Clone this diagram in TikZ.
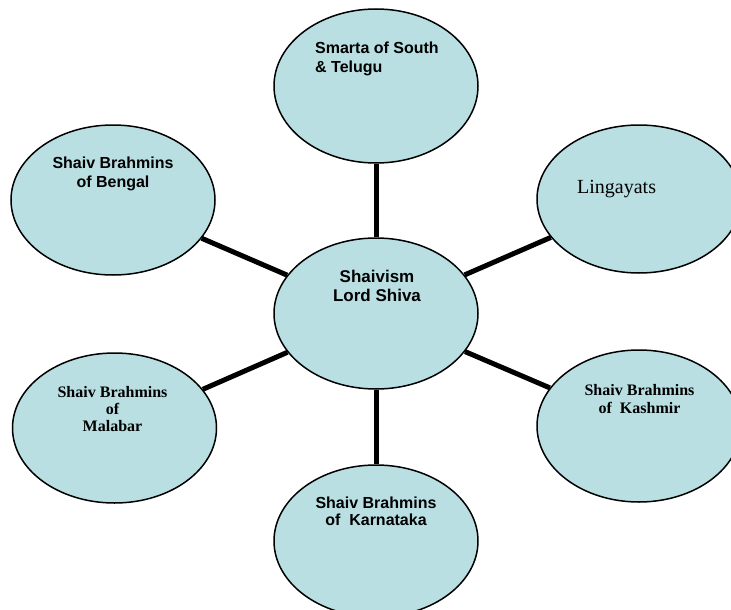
\documentclass[tikz,border=0pt]{standalone}
\usepackage{fontspec}
\setmainfont{Liberation Serif}
\newfontfamily\arialf{Liberation Sans}
\usetikzlibrary{shapes.geometric}
\definecolor{bubble}{HTML}{B9DFE3}
\tikzset{
  bubble/.style={ellipse, draw=black, line width=1.5pt, fill=bubble, inner sep=0pt,
    minimum width=204pt, minimum height=#1},
  bubble/.default=152pt,
  conn/.style={line width=5pt, black},
  lbl/.style={inner sep=0pt, anchor=base},
  lblw/.style={inner sep=0pt, anchor=base west},
}
\newcommand{\sansb}[2]{\arialf\bfseries\fontsize{#1}{#2}\selectfont}
\newcommand{\serifb}[2]{\bfseries\fontsize{#1}{#2}\selectfont}
\begin{document}
\begin{tikzpicture}[x=1pt,y=-1pt]
\useasboundingbox (0,0) rectangle (731,610);
\node[bubble=154pt] (top) at (376,86) {};
\node[bubble=150pt] (bengal) at (113,200) {};
\node[bubble=148pt] (ling) at (639,199) {};
\node[bubble=151pt] (center) at (376,313.5) {};
\node[bubble=150pt] (malabar) at (114.5,428) {};
\node[bubble=152pt] (kashmir) at (639,426) {};
\node[bubble=152pt] (karnataka) at (376,541) {};
\draw[conn] (center) -- (top);
\draw[conn] (center) -- (bengal);
\draw[conn] (center) -- (ling);
\draw[conn] (center) -- (malabar);
\draw[conn] (center) -- (kashmir);
\draw[conn] (center) -- (karnataka);
\node[lblw] (ttop) at (315,54) {\sansb{16}{19}\begin{tabular}[t]{@{}l@{}}Smarta of South\\ \& Telugu\end{tabular}};
\node[lbl] (tbengal) at (113,168) {\sansb{16}{19}\begin{tabular}[t]{@{}c@{}}Shaiv Brahmins\\ of Bengal\end{tabular}};
\node[lblw] (tling) at (577,193) {\fontsize{20}{23}\selectfont Lingayats};
\node[lbl] (tcenter) at (377,282) {\sansb{17}{19}\begin{tabular}[t]{@{}c@{}}Shaivism\\ Lord Shiva\end{tabular}};
\node[lbl] (tmalabar) at (112.5,397) {\serifb{16}{17}\begin{tabular}[t]{@{}c@{}}Shaiv Brahmins\\ of\\ Malabar\end{tabular}};
\node[lbl] (tkashmir) at (639.5,395) {\serifb{16}{18}\begin{tabular}[t]{@{}c@{}}Shaiv Brahmins\\ of~~Kashmir\end{tabular}};
\node[lbl] (tkarnataka) at (376,508) {\sansb{16}{17.5}\begin{tabular}[t]{@{}c@{}}Shaiv Brahmins\\ of~~Karnataka\end{tabular}};
\end{tikzpicture}
\end{document}
